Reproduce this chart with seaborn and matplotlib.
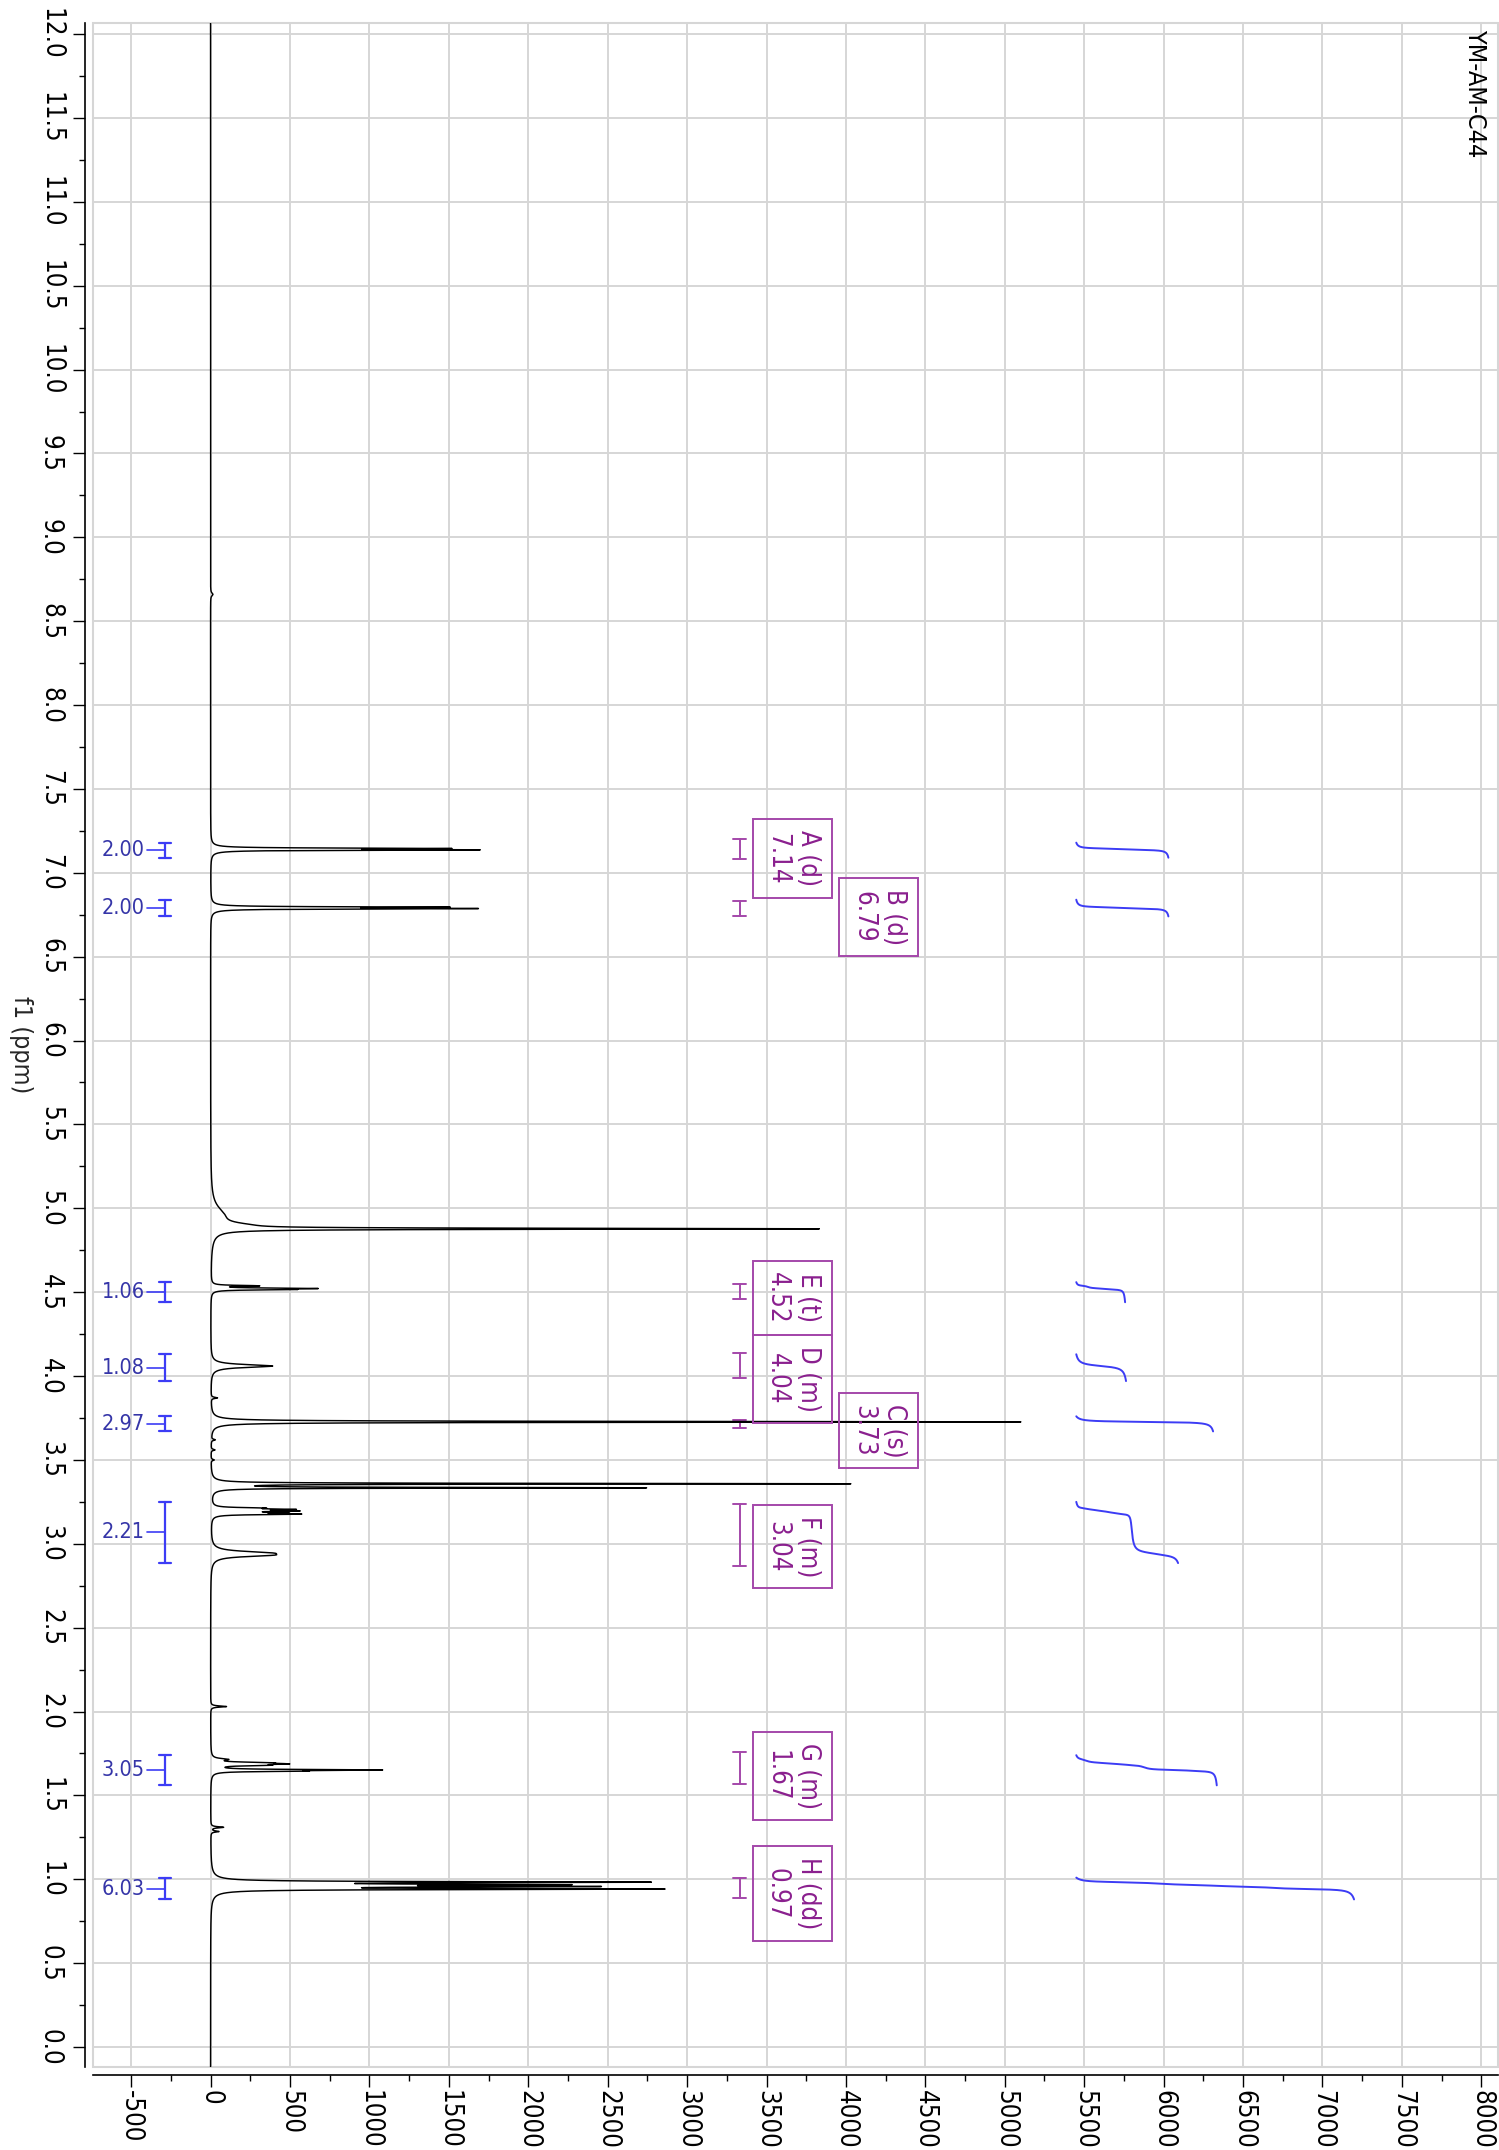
import numpy as np
import pandas as pd
import matplotlib
matplotlib.use("Agg")
import matplotlib.pyplot as plt
from matplotlib.ticker import MultipleLocator, FixedLocator, FixedFormatter
from matplotlib.patches import Rectangle
import seaborn as sns

OUTPUT_IMG = "out.png"
TITLE = "YM-AM-C44"

# --- 1H lines: centre (ppm), height, half width (ppm) ---
PEAK_PPM = [8.66, 7.145, 7.137, 6.795, 6.787, 4.960, 4.900, 4.878,
            4.538, 4.522, 4.516, 4.060, 3.870, 3.727, 3.620, 3.560, 3.500,
            3.358, 3.334, 3.213, 3.205, 3.196, 3.186, 3.177, 2.945, 2.932,
            2.030, 1.715, 1.695, 1.688, 1.680, 1.652, 1.645, 1.310, 1.285,
            0.983, 0.968, 0.957, 0.942]
PEAK_HEIGHT = [15, 1350, 1550, 1340, 1540, 70, 150, 3740,
               280, 580, 420, 390, 40, 5100, 25, 25, 20,
               4000, 2700, 250, 420, 440, 360, 500, 300, 260,
               100, 90, 280, 360, 280, 1000, 450, 80, 50,
               2620, 1900, 2100, 2700]
PEAK_WIDTH = [0.010, 0.0028, 0.0028, 0.0028, 0.0028, 0.060, 0.020, 0.0035,
              0.003, 0.003, 0.003, 0.010, 0.004, 0.003, 0.004, 0.004, 0.004,
              0.0025, 0.0025, 0.0035, 0.0035, 0.0035, 0.0035, 0.0035, 0.012, 0.010,
              0.004, 0.006, 0.004, 0.004, 0.004, 0.003, 0.003, 0.004, 0.004,
              0.0035, 0.0035, 0.0035, 0.0035]

# --- integrals (blue) ---
INT_FROM = [7.18, 6.84, 4.56, 4.13, 3.76, 3.25, 1.74, 1.01]
INT_TO = [7.09, 6.74, 4.44, 3.97, 3.67, 2.885, 1.56, 0.88]
INT_VALUE = [2.00, 2.00, 1.06, 1.08, 2.97, 2.21, 3.05, 6.03]

# --- multiplet report (purple) ---
MULT_NAME = ["A", "B", "E", "D", "C", "F", "G", "H"]
MULT_KIND = ["d", "d", "t", "m", "s", "m", "m", "dd"]
MULT_SHIFT = [7.14, 6.79, 4.52, 4.04, 3.73, 3.04, 1.67, 0.97]
MULT_FROM = [7.20, 6.83, 4.55, 4.14, 3.74, 3.24, 1.76, 1.01]
MULT_TO = [7.08, 6.74, 4.46, 3.99, 3.69, 2.87, 1.57, 0.89]

# axis ticks
PPM_TICKS = [round(0.5 * i, 1) for i in range(25)]
INTENSITY_TICKS = list(range(-500, 8001, 500))

# layout
LABEL_COLUMN = [0, 1, 0, 0, 1, 0, 0, 0]
BOX_X = [3662, 4207]
MULT_BAR_X = 3330
INT_BAR_X = -289
INT_CURVE_X0 = 5450
INT_PER_H = 290

BLUE_BAR = "#3c3cf5"
BLUE_TEXT = "#3535a8"
PURPLE_BOX = "#a447aa"
PURPLE_TEXT = "#8a1f8e"
GRID = "#d6d6d6"
TICK_FS = 18.5

sns.set_style("ticks")
plt.rcParams["font.family"] = ["DejaVu Sans"]
plt.rcParams["font.stretch"] = "condensed"
plt.rcParams["axes.unicode_minus"] = False

# build the spectrum from the line list
ppm = np.linspace(12.3, -0.25, 62751)
spec = np.zeros_like(ppm)
for c, h, w in zip(PEAK_PPM, PEAK_HEIGHT, PEAK_WIDTH):
    spec += h * w ** 2 / ((ppm - c) ** 2 + w ** 2)
df = pd.DataFrame({"ppm": ppm, "intensity": spec})

fig = plt.figure(figsize=(14.99, 21.5), dpi=100)
ax = fig.add_axes([93 / 1499, 1 - 2067 / 2150, 1405 / 1499, 2044 / 2150])

sns.lineplot(data=df, x="intensity", y="ppm", sort=False, estimator=None,
             color="black", lw=1.05, ax=ax, zorder=3)

# integral curves + bars
for start, end, value in zip(INT_FROM, INT_TO, INT_VALUE):
    sel = (ppm <= start) & (ppm >= end)
    area = np.cumsum(spec[sel])
    ax.plot(INT_CURVE_X0 + INT_PER_H * value * area / area[-1], ppm[sel],
            color=BLUE_BAR, lw=1.4, zorder=3)
    mid = (start + end) / 2
    ax.plot([INT_BAR_X, INT_BAR_X], [start, end], color=BLUE_BAR, lw=1.6)
    for yy in (start, end):
        ax.plot([INT_BAR_X - 38, INT_BAR_X + 38], [yy, yy], color=BLUE_BAR, lw=1.6)
    ax.plot([INT_BAR_X - 108, INT_BAR_X], [mid, mid], color=BLUE_BAR, lw=1.2)
    ax.text(INT_BAR_X - 125, mid, f"{value:.2f}", ha="right", va="center",
            fontsize=15.5, color=BLUE_TEXT)

# multiplet bars + boxes
for name, kind, shift, start, end, col in zip(MULT_NAME, MULT_KIND, MULT_SHIFT,
                                              MULT_FROM, MULT_TO, LABEL_COLUMN):
    ax.plot([MULT_BAR_X, MULT_BAR_X], [start, end], color=PURPLE_BOX, lw=1.4)
    for yy in (start, end):
        ax.plot([MULT_BAR_X - 44, MULT_BAR_X + 44], [yy, yy], color=PURPLE_BOX, lw=1.4)
    ax.text(BOX_X[col], shift - 0.055, f"{name} ({kind})\n{shift:.2f}",
            rotation=-90, ha="center", va="center", multialignment="center",
            fontsize=18.5, color=PURPLE_TEXT, linespacing=1.25,
            bbox=dict(boxstyle="square,pad=0.43", fc="none", ec=PURPLE_BOX, lw=1.4))

# axes
ax.set_xlim(-740, 8105)
ax.set_ylim(-0.119, 12.066)
ax.set_axisbelow(True)

ax.yaxis.set_major_locator(FixedLocator(PPM_TICKS))
ax.yaxis.set_major_formatter(FixedFormatter([f"{v:.1f}" for v in PPM_TICKS]))
ax.yaxis.set_minor_locator(MultipleLocator(0.25))
ax.xaxis.set_major_locator(FixedLocator(INTENSITY_TICKS))
ax.xaxis.set_major_formatter(FixedFormatter([str(v) for v in INTENSITY_TICKS]))
ax.xaxis.set_minor_locator(MultipleLocator(250))

ax.tick_params(axis="both", which="major", length=8.6, width=1.0, color="black",
               labelsize=TICK_FS, labelrotation=-90, labelcolor="black")
ax.tick_params(axis="both", which="minor", length=4.5, width=1.0, color="black")
ax.tick_params(axis="y", which="major", pad=7)
ax.tick_params(axis="x", which="major", pad=2)
ax.grid(True, which="major", color=GRID, lw=1.4)

for side in ("top", "right"):
    ax.spines[side].set_visible(False)
for side in ("left", "bottom"):
    ax.spines[side].set_position(("outward", 6))
    ax.spines[side].set_linewidth(1.2)
    ax.spines[side].set_color("black")
ax.add_patch(Rectangle((0, 0), 1, 1, transform=ax.transAxes, fill=False,
                       ec=GRID, lw=1.5, clip_on=False, zorder=0.5))

ax.set_xlabel("")
ax.set_ylabel("f1 (ppm)", rotation=-90, fontsize=18, ha="center", va="center",
              rotation_mode="default")
ax.yaxis.set_label_coords(-0.051, 0.5)

ax.text(0.992, 0.997, TITLE, transform=ax.transAxes, rotation=-90,
        ha="right", va="top", fontsize=18, color="black")

# alignment of the rotated tick labels
fig.canvas.draw()
for lbl in ax.get_yticklabels():
    lbl.set_verticalalignment("center")
    lbl.set_horizontalalignment("right")
for lbl in ax.get_xticklabels():
    lbl.set_horizontalalignment("center")
    lbl.set_verticalalignment("top")

fig.savefig(OUTPUT_IMG, dpi=100)
